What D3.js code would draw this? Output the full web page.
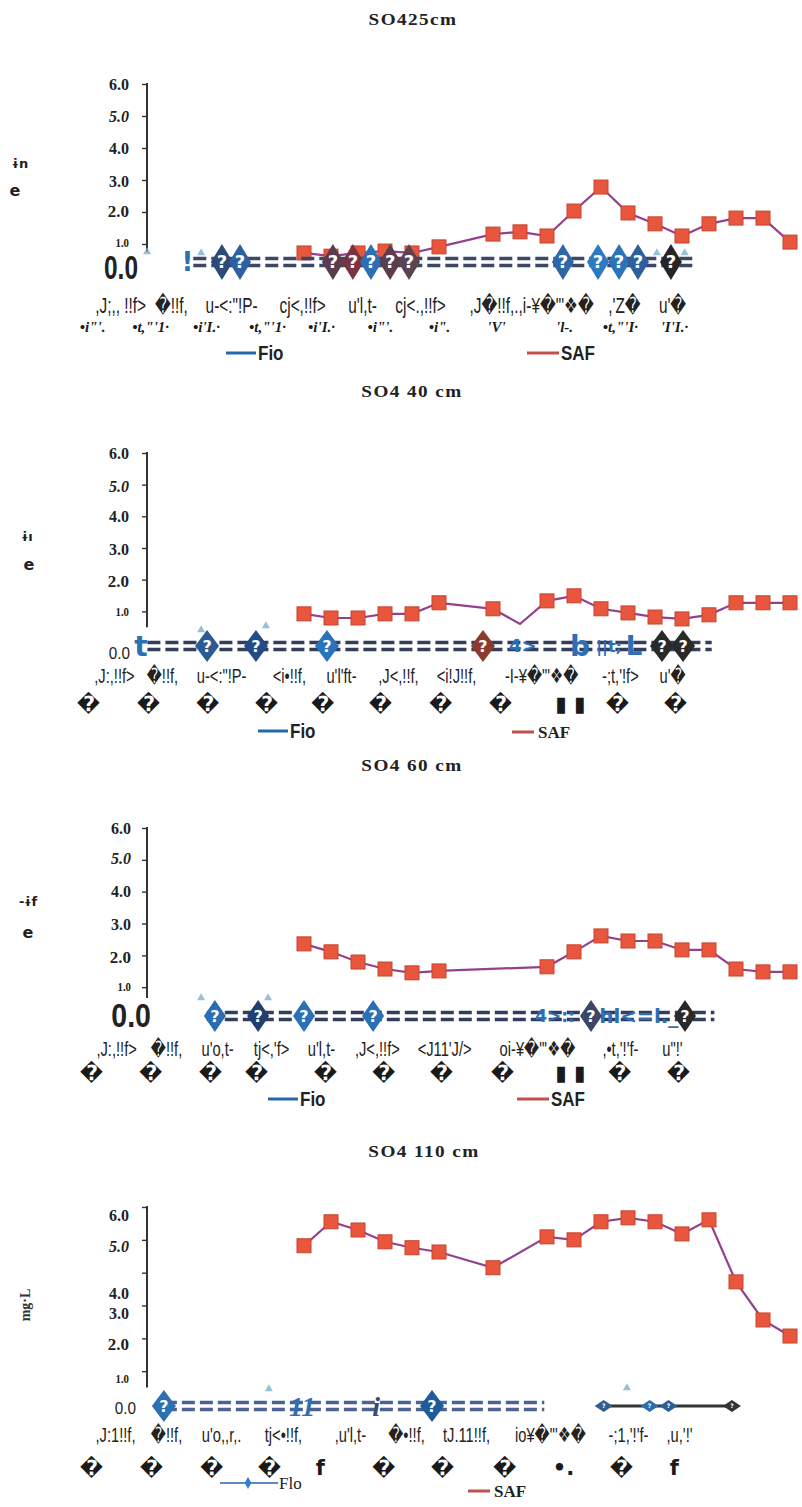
<!DOCTYPE html>
<html><head><meta charset="utf-8">
<script src="https://cdn.jsdelivr.net/npm/d3@7"></script>
<style>body{margin:0;background:#fff}svg{display:block}</style>
</head><body>
<svg id="c" width="802" height="1507"></svg>
<script>
// ================= DATA =================
const titles = ["SO425cm", "SO4 40 cm", "SO4 60 cm", "SO4  110 cm"];
// sample positions (sampling order) where SAF was measured
const sampleIdx = [6,7,8,9,10,11,12,13,14,15,16,17,18,19,20,21,22,23,24];
const saf25  = [0.72,0.62,0.72,0.78,0.72,0.91,null,1.31,1.38,1.25,2.03,2.78,1.97,1.63,1.25,1.63,1.81,1.81,1.06];
const saf40  = [0.92,0.79,0.79,0.92,0.92,1.27,null,1.08,0.60,1.33,1.49,1.08,0.95,0.82,0.76,0.89,1.27,1.27,1.27];
const saf60  = [2.36,2.11,1.79,1.57,1.45,1.51,null,null,null,1.64,2.11,2.61,2.45,2.45,2.17,2.17,1.57,1.48,1.48];
const saf110 = [4.82,5.55,5.30,4.94,4.76,4.63,null,4.15,null,5.09,5.00,5.55,5.67,5.55,5.18,5.61,3.72,2.56,2.07];
const safNoMarker40 = [14];

const yTickValues = [0,1,2,3,4,5,6];
const yTickLabels = ["0.0","1.0","2.0","3.0","4.0","5.0","6.0"];

// Fio series (at zero level, garbled markers)
const fio25Pos = [2.96,3.63,7.07,7.81,8.48,9.19,9.89,15.59,16.89,17.67,18.37,19.59];
const fio25    = [0,0,0,0,0,0,0,0,0,0,0,0];
const fio40Pos = [2.41,4.22,6.85,12.63,19.26,20.04];
const fio40    = [0,0,0,0,0,0];
const fio60Pos = [2.70,4.30,6.00,8.56,16.63,20.11];
const fio60    = [0,0,0,0,0,0];
const fio110Pos = [0.81,10.74];
const fio110    = [0,0];
const fio110bPos = [17.1,18.8,19.5,21.85];
const fio110b    = [0,0,0,0];

// faint low Fio points
const fioLow25Pos = [0.19,2.19,19.07,20.1];
const fioLow25    = [0.75,0.72,0.72,0.72];
const fioLow40Pos = [2.19,4.59];
const fioLow40    = [0.41,0.54];
const fioLow60Pos = [2.19,4.67];
const fioLow60    = [0.66,0.66];
const fioLow110Pos = [4.7,17.96];
const fioLow110    = [0.46,0.49];

// x tick labels (two garbled rows)
const xl25a = [",J;,, !!f>","\uFFFD!!f,","u-<:\"!P-","cj<,!!f>","u'l,t-","cj<.,!!f>",",J\uFFFD!!f,.,i-\u00A5\uFFFD\"'\u2756\uFFFD",",'Z\uFFFD","u'\uFFFD"];
const xl25aPos = [-0.81,1.07,3.30,5.93,8.15,10.30,14.41,17.85,19.63];
const xl25b = ["\u2022i\"'.","\u2022t,\"'1\u00B7","\u2022i'I.\u00B7","\u2022t,\"'1\u00B7","\u2022i'I.\u00B7","\u2022i\"'.","\u2022i\".","'V'","'l-.","\u2022t,\"'I\u00B7","'I'I.\u00B7"];
const xl25bPos = [-1.85,0.30,2.37,4.63,6.63,8.81,11.0,13.11,15.63,17.70,19.70];

const xl40a = [",J:,!!f>","\uFFFD!!f,","u-<:\"!P-","<i\u2022!!f,","u'l'ft-",",J<,!!f,","<i!J!!f,","-I-\u00A5\uFFFD\"'\u2756\uFFFD","-;t,'!f>","u'\uFFFD"];
const xl40aPos = [-1.04,0.74,2.93,5.44,7.37,9.48,11.63,14.78,17.70,19.63];
const xl40b = ["\uFFFD","\uFFFD","\uFFFD","\uFFFD","\uFFFD","\uFFFD","\uFFFD","\uFFFD","\u25AE \u25AE","\uFFFD","\uFFFD"];
const xl40bPos = [-2.0,0.22,2.41,4.59,6.67,8.81,11.04,13.26,15.85,17.59,19.74];

const xl60a = [",J:,!!f>","\uFFFD!!f,","u'o,t-","tj<,'f>","u'l,t-",",J<,!!f>","<J11'J/>","oi-\u00A5\uFFFD\"'\u2756\uFFFD",",\u2022t,'!'f-","u\"!'"];
const xl60aPos = [-0.96,0.89,2.78,4.78,6.63,8.70,11.19,14.63,17.70,19.63];
const xl60b = ["\uFFFD","\uFFFD","\uFFFD","\uFFFD","\uFFFD","\uFFFD","\uFFFD","\uFFFD","\u25AE \u25AE","\uFFFD","\uFFFD"];
const xl60bPos = [-1.89,0.30,2.52,4.22,6.78,8.93,11.07,13.33,15.85,17.67,19.85];

const xl110a = [",J:1!!f,","\uFFFD!!f,","u'o,,r,.","tj<\u2022!!f,",",u'l,t-","\uFFFD\u2022!!f,","tJ.11!!f,","io\u00A5\uFFFD\"'\u2756\uFFFD","-;1,'!'f-",",u,'!'"];
const xl110aPos = [-1.0,0.89,2.93,5.22,7.70,9.78,12.0,15.11,18.0,19.89];
const xl110b = ["\uFFFD","\uFFFD","\uFFFD","\uFFFD","f","\uFFFD","\uFFFD","\uFFFD","\u2022.","\uFFFD","f"];
const xl110bPos = [-1.89,0.33,2.56,4.70,6.59,8.93,11.11,13.41,15.59,17.74,19.70];

// ================= LAYOUT / STYLE =================
const SERIF = "'Liberation Serif','DejaVu Serif',serif";
const SANS = "'Liberation Sans','DejaVu Sans',sans-serif";
const DEJA = "'DejaVu Sans',sans-serif";
const safLine = "#93408f", safFill = "#e8573d", safStroke = "#c8432c";

const bigZero1 = {size:34, weight:"bold", family:SANS, sx:0.72};
const bigZero3 = {size:34, weight:"bold", family:SANS, sx:0.84};
const smallZero = {size:17, weight:"normal", family:SANS, sx:0.9};
function labStyles(zero){
  return [zero,
    {size:12, weight:"bold", family:SERIF, sx:0.9},
    {size:17, weight:"bold", family:SERIF, sx:1},
    {size:16, weight:"bold", family:SERIF, sx:1},
    {size:16, weight:"bold", family:SERIF, sx:1},
    {size:16, weight:"bold", family:SERIF, italic:true, sx:1},
    {size:16, weight:"bold", family:SERIF, sx:1}];
}

const panels = [
 {title:titles[0], tx:413, ty:25, yr:[276,84], axisEnd:0.75, zeroRight:138, labRight:129,
  labDy:[-9,-1,-1,1,0,0,0], labSt:labStyles(bigZero1),
  saf:saf25, noMarker:[],
  fio:{pos:fio25Pos,val:fio25,col:["#2e4a78","#2c62a3","#5b3c4e","#7a3340","#2b6fb5","#5c3d4f","#5a4452","#2c67a8","#2c7bc2","#2b73ba","#2f5f9e","#262626"], w:11, h:18},
  fioOff:-14, fioSpan:[1.9,20.4], fioDash:"#3d4766",
  extra:[{t:"!", p:1.68, c:"#2c6fb5", s:26}],
  low:{pos:fioLow25Pos,val:fioLow25},
  rowA:{lab:xl25a,pos:xl25aPos,y:313,size:22}, rowB:{lab:xl25b,pos:xl25bPos,y:332,size:15,serif:true},
  leg:{fx:226,fy:353,sx:527,sy:353,fioSerif:false,safSerif:false},
  ylab:[{t:"\u0268n",x:20,y:168,s:13},{t:"e",x:15,y:196,s:16}]},
 {title:titles[1], tx:412, ty:397, yr:[643,453.0], axisEnd:0.5, zeroRight:130, labRight:129,
  labDy:[10,0,1,1,0,2,0], labSt:labStyles(smallZero),
  saf:saf40, noMarker:safNoMarker40,
  fio:{pos:fio40Pos,val:fio40,col:["#2a5b94","#234c85","#2a72bb","#8b3b2c","#2a2a2a","#2a2a2a"], w:12, h:16},
  fioOff:3, fioSpan:[0.2,21.1], fioDash:"#333d5c",
  extra:[{t:"t",p:-0.04,c:"#2c6fb5",s:28},{t:"4>",p:14.1,c:"#2c6fb5",s:18},{t:"b",p:16.22,c:"#2c6fb5",s:28},{t:"||t;",p:17.3,c:"#2c6fb5",s:16},{t:"L",p:18.22,c:"#2c6fb5",s:26}],
  low:{pos:fioLow40Pos,val:fioLow40},
  rowA:{lab:xl40a,pos:xl40aPos,y:683,size:21}, rowB:{lab:xl40b,pos:xl40bPos,y:711,size:21},
  leg:{fx:258,fy:731,sx:512,sy:732,fioSerif:false,safSerif:true},
  ylab:[{t:"\u0268\u0131",x:27,y:541,s:13},{t:"e",x:29,y:570,s:16}]},
 {title:titles[2], tx:412, ty:771, yr:[1019,828], axisEnd:0.66, zeroRight:151, labRight:131,
  labDy:[-4,0,2,1,0,-1,0], labSt:labStyles(bigZero3),
  saf:saf60, noMarker:[],
  fio:{pos:fio60Pos,val:fio60,col:["#2a6db3","#1f3f6e","#2a70b6","#2a70b6","#3c4668","#2a2a2a"], w:11, h:16},
  fioOff:-3, fioSpan:[2.4,21.2], fioDash:"#333d5c",
  extra:[{t:"4>::",p:15.3,c:"#2c6fb5",s:17},{t:"hl<=l._",p:18.4,c:"#2c6fb5",s:20}],
  low:{pos:fioLow60Pos,val:fioLow60},
  rowA:{lab:xl60a,pos:xl60aPos,y:1056,size:21}, rowB:{lab:xl60b,pos:xl60bPos,y:1080,size:21},
  leg:{fx:268,fy:1099,sx:517,sy:1099,fioSerif:false,safSerif:false},
  ylab:[{t:"-\u0268f",x:28,y:906,s:13},{t:"e",x:28,y:938,s:16}]},
 {title:titles[3], tx:424, ty:1157, yr:[1404,1207], axisEnd:0.5, zeroRight:136, labRight:129,
  labDy:[4,8,6,8,21,7,8], labSt:labStyles(smallZero),
  saf:saf110, noMarker:[],
  fio:{pos:fio110Pos,val:fio110,col:["#2c6fb3","#1f5a9a"], w:12, h:16},
  fioB:{pos:fio110bPos,val:fio110b,col:["#2f5f90","#2a6fb0","#2a5f98","#333333"], w:9, h:6},
  fioOff:2, fioSpan:[0.81,14.9], fioDash:"#4a6390",
  extra:[{t:"11",p:5.93,c:"#2c6fb5",s:28,it:true},{t:"i",p:8.67,c:"#3a4a70",s:28,it:true}],
  low:{pos:fioLow110Pos,val:fioLow110},
  rowA:{lab:xl110a,pos:xl110aPos,y:1442,size:21}, rowB:{lab:xl110b,pos:xl110bPos,y:1475,size:21},
  leg:{fx:220,fy:1483,sx:468,sy:1491,fioSerif:true,safSerif:true,fioMarker:true},
  ylab:[], rotLab:{t:"mg\u00B7L",x:30,y:1305}}
];

// ================= DRAW =================
const svg = d3.select("#c");
const x = d3.scaleLinear().domain([0,24]).range([142,790]);

panels.forEach(P => {
  const g = svg.append("g");
  const y = d3.scaleLinear().domain([0,6]).range(P.yr);

  // title
  g.append("text").attr("transform",`translate(${P.tx},${P.ty}) scale(1.2,1)`).attr("text-anchor","middle")
    .attr("font-family",SERIF).attr("font-weight","bold").attr("font-size",16)
    .attr("letter-spacing",1.2).attr("fill","#222").text(P.title);

  // y axis line + ticks
  const ax = d3.axisLeft(y).tickValues(yTickValues.slice(1)).tickSize(5).tickFormat("");
  const axG = g.append("g").attr("transform",`translate(147,0)`).call(ax);
  axG.select(".domain").remove();
  axG.selectAll("line").attr("stroke","#333").attr("stroke-width",1.4);
  g.append("line").attr("x1",147).attr("x2",147).attr("y1",y(6)-1).attr("y2",y(P.axisEnd))
    .attr("stroke","#333").attr("stroke-width",2);

  // y tick labels
  yTickValues.forEach((v,i)=>{
    const st = P.labSt[i];
    const xr = i===0?P.zeroRight:P.labRight;
    g.append("text").attr("transform",`translate(${xr},${y(v)+P.labDy[i]}) scale(${st.sx},1)`)
      .attr("dy","0.35em").attr("text-anchor","end")
      .attr("font-family",st.family).attr("font-weight",st.weight)
      .attr("font-style",st.italic?"italic":"normal").attr("font-size",st.size)
      .attr("fill","#222").text(yTickLabels[i]);
  });

  // y-axis garbled title
  P.ylab.forEach(l=>{
    g.append("text").attr("x",l.x).attr("y",l.y).attr("text-anchor","middle")
      .attr("font-family",DEJA).attr("font-weight","bold").attr("font-size",l.s)
      .attr("fill","#222").text(l.t);
  });
  if (P.rotLab){
    g.append("text").attr("transform",`translate(${P.rotLab.x},${P.rotLab.y}) rotate(-90)`)
      .attr("text-anchor","middle").attr("font-family",SERIF).attr("font-weight","bold")
      .attr("font-size",14).attr("fill","#333").text(P.rotLab.t);
  }

  // faint low Fio marks
  P.low.pos.forEach((p,i)=>{
    g.append("path").attr("d", d3.symbol(d3.symbolTriangle, 28)())
      .attr("transform",`translate(${x(p)},${y(P.low.val[i])})`)
      .attr("fill","#7fb0d0").attr("opacity",0.8);
  });

  // SAF line + markers
  const pts = sampleIdx.map((p,i)=>({p, v:P.saf[i]})).filter(d=>d.v!=null);
  g.append("path").datum(pts)
    .attr("d", d3.line().x(d=>x(d.p)).y(d=>y(d.v)))
    .attr("fill","none").attr("stroke",safLine).attr("stroke-width",2.2);
  g.selectAll(null).data(pts.filter(d=>!P.noMarker.includes(d.p))).join("rect")
    .attr("x",d=>x(d.p)-7).attr("y",d=>y(d.v)-7).attr("width",14).attr("height",14)
    .attr("fill",safFill).attr("stroke",safStroke).attr("stroke-width",1);

  // Fio row: double-dashed connector
  const fy = y(0)+P.fioOff;
  [-3.5,3.5].forEach(o=>{
    g.append("line").attr("x1",x(P.fioSpan[0])).attr("x2",x(P.fioSpan[1]))
      .attr("y1",fy+o).attr("y2",fy+o).attr("stroke",P.fioDash)
      .attr("stroke-width",3.5).attr("stroke-dasharray","13,5");
  });
  if (P.fioB){
    g.append("line").attr("x1",x(P.fioB.pos[0])).attr("x2",x(P.fioB.pos[P.fioB.pos.length-1]))
      .attr("y1",fy).attr("y2",fy).attr("stroke","#333").attr("stroke-width",3);
  }

  // extra garbled glyphs in the Fio row
  P.extra.forEach(e=>{
    g.append("text").attr("x",x(e.p)).attr("y",fy).attr("dy","0.36em")
      .attr("text-anchor","middle").attr("font-family",e.it?SERIF:DEJA)
      .attr("font-style",e.it?"italic":"normal").attr("font-weight","bold")
      .attr("font-size",e.s).attr("fill",e.c).text(e.t);
  });

  // Fio diamond markers
  function diamonds(F){
    F.pos.forEach((p,i)=>{
      const cx = x(p), cy = y(F.val[i])+ (fy - y(0));
      g.append("path").attr("d",`M${cx},${cy-F.h}L${cx+F.w},${cy}L${cx},${cy+F.h}L${cx-F.w},${cy}Z`)
        .attr("fill",F.col[i]);
      g.append("text").attr("x",cx).attr("y",cy).attr("dy","0.36em").attr("text-anchor","middle")
        .attr("font-family",DEJA).attr("font-weight","bold").attr("font-size",F.h*1.0)
        .attr("fill","#fff").text("?");
    });
  }
  diamonds(P.fio);
  if (P.fioB) diamonds(P.fioB);

  // x tick label rows (via axisBottom)
  const rowA = d3.axisBottom(x).tickValues(P.rowA.pos).tickFormat((d,i)=>P.rowA.lab[i]).tickSize(0);
  const ga = g.append("g").attr("transform",`translate(0,${P.rowA.y})`).call(rowA);
  ga.select(".domain").remove();
  ga.selectAll("text").attr("y",0).attr("dy",0).attr("font-family",SANS)
    .attr("transform","scale(0.7,1)")
    .attr("font-size",P.rowA.size).attr("fill","#222");
  const rowB = d3.axisBottom(x).tickValues(P.rowB.pos).tickFormat((d,i)=>P.rowB.lab[i]).tickSize(0);
  const gb = g.append("g").attr("transform",`translate(0,${P.rowB.y})`).call(rowB);
  gb.select(".domain").remove();
  gb.selectAll("text").attr("y",0).attr("dy",0)
    .attr("font-family",P.rowB.serif?SERIF:DEJA)
    .attr("font-weight","bold").attr("font-style",P.rowB.serif?"italic":"normal")
    .attr("font-size",P.rowB.size).attr("fill","#1a1a1a");

  // legend
  const L = P.leg;
  g.append("line").attr("x1",L.fx).attr("x2",L.fx+(L.fioMarker?58:30)).attr("y1",L.fy).attr("y2",L.fy)
    .attr("stroke","#2566ad").attr("stroke-width",L.fioMarker?1.5:3);
  if (L.fioMarker){
    g.append("path").attr("d",d3.symbol(d3.symbolDiamond,40)())
      .attr("transform",`translate(${L.fx+28},${L.fy})`).attr("fill","#2f7fd0");
  }
  g.append("text").attr("transform",`translate(${L.fx+(L.fioMarker?59:32)},${L.fy}) scale(${L.fioSerif?1:0.85},1)`)
    .attr("dy","0.36em")
    .attr("font-family",L.fioSerif?SERIF:SANS).attr("font-weight",L.fioSerif?"normal":"bold")
    .attr("font-size",L.fioSerif?17:20).attr("fill","#222").text(L.fioSerif?"Flo":"Fio");
  g.append("line").attr("x1",L.sx).attr("x2",L.sx+(L.safSerif?22:32)).attr("y1",L.sy).attr("y2",L.sy)
    .attr("stroke","#c0504d").attr("stroke-width",3);
  g.append("text").attr("transform",`translate(${L.sx+(L.safSerif?26:34)},${L.sy}) scale(${L.safSerif?1:0.85},1)`)
    .attr("dy","0.36em")
    .attr("font-family",L.safSerif?SERIF:SANS).attr("font-weight","bold")
    .attr("font-size",L.safSerif?17:20).attr("fill","#222").text("SAF");
});
</script>
</body></html>
